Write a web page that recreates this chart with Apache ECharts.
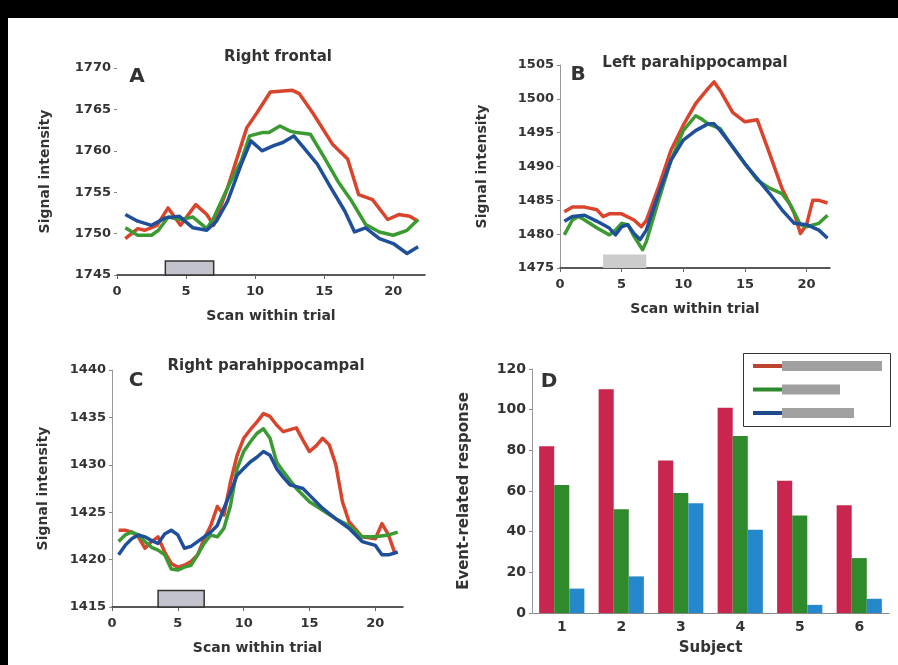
<!DOCTYPE html>
<html>
<head>
<meta charset="utf-8">
<script src="https://cdn.jsdelivr.net/npm/echarts@6/dist/echarts.min.js"></script>
<style>
  html, body { margin: 0; padding: 0; background: #fff; }
  #chart { width: 898px; height: 665px; }
</style>
</head>
<body>
<div id="chart"></div>
<script>
// ---- Panel A: right frontal, [scan, signal] ----
const frontalRed = [[0.6,1749.4],[1.5,1750.6],[2,1750.4],[2.9,1751],[3.7,1753.1],[4.6,1751],[5.7,1753.5],[6.5,1752.3],[7,1751],[8,1755.5],[9.4,1762.8],[10.1,1764.5],[11.1,1767.1],[12.7,1767.3],[13.2,1766.9],[14.2,1764.5],[15.6,1760.8],[16.7,1759],[17.5,1754.7],[18.5,1754.1],[19.6,1751.7],[20.4,1752.3],[21.2,1752.1],[21.8,1751.5]];
const frontalGreen = [[0.6,1750.7],[1.5,1749.8],[2.5,1749.8],[3,1750.4],[3.7,1752],[4.6,1751.7],[5.5,1752],[6.5,1750.6],[7,1751.9],[8,1755.5],[9,1758.8],[9.6,1761.8],[10.5,1762.2],[11,1762.2],[11.8,1763],[12.5,1762.4],[13,1762.2],[14,1762],[15,1759.2],[16,1756.3],[17,1753.9],[18,1751.1],[19,1750.2],[20,1749.8],[21,1750.4],[21.8,1751.7]];
const frontalBlue = [[0.6,1752.3],[1.5,1751.5],[2.5,1751],[3.5,1751.9],[4.5,1752.1],[5.5,1750.7],[6.5,1750.4],[7.2,1751.5],[8,1753.9],[9,1758.4],[9.7,1761.2],[10.5,1760],[11.3,1760.6],[12,1761],[12.8,1761.8],[13.5,1760.4],[14.5,1758.4],[15.5,1755.5],[16.5,1752.7],[17.2,1750.2],[18,1750.7],[19,1749.4],[20,1748.8],[21,1747.6],[21.8,1748.4]];

// ---- Panel B: left parahippocampal ----
const leftParaRed = [[0.35,1483.3],[1,1484],[2,1484],[3,1483.6],[3.5,1482.6],[4,1483],[5,1483],[6,1482.1],[6.6,1481.1],[7,1482],[8,1487],[9,1492.4],[10,1496.1],[11,1499.3],[12,1501.5],[12.5,1502.5],[13,1501.2],[14,1498],[15,1496.6],[16,1496.9],[17,1491.9],[18,1486.8],[19,1483.1],[19.5,1480.1],[20,1481.4],[20.5,1485],[21,1485],[21.7,1484.6]];
const leftParaGreen = [[0.35,1479.9],[1,1482.1],[1.5,1482.6],[2,1482.1],[3,1480.9],[4,1479.9],[4.5,1480.6],[5,1481.6],[5.5,1481.4],[6,1479.7],[6.7,1477.7],[7,1478.9],[8,1485],[9,1490.9],[10,1495.3],[11,1497.5],[11.5,1497],[12,1496.3],[13,1495.6],[14,1492.9],[15,1490.4],[16,1488],[17,1486.8],[18,1486],[18.7,1484.3],[19.5,1481.4],[20,1481.1],[21,1481.6],[21.7,1482.8]];
const leftParaBlue = [[0.35,1481.9],[1,1482.6],[2,1482.8],[3,1481.9],[4,1480.9],[4.5,1479.9],[5,1481.1],[5.5,1481.4],[6,1480.1],[6.5,1479.2],[7,1480.6],[8,1486],[9,1490.9],[10,1493.9],[11,1495.3],[12,1496.3],[12.5,1496.3],[13,1495.3],[14,1492.9],[15,1490.4],[16,1488.2],[17,1486],[18,1483.6],[19,1481.6],[20,1481.4],[21,1480.6],[21.7,1479.4]];

// ---- Panel C: right parahippocampal ----
const rightParaRed = [[0.5,1423.1],[1,1423.1],[1.5,1422.9],[2,1422.4],[2.5,1421.2],[3,1421.9],[3.5,1422.4],[4,1420.8],[4.5,1419.6],[5,1419.2],[5.5,1419.4],[6,1419.8],[6.5,1420.5],[7,1422.2],[7.5,1423.6],[8,1425.6],[8.5,1424.7],[9,1428.2],[9.5,1431],[10,1432.8],[10.5,1433.7],[11,1434.5],[11.5,1435.4],[12,1435.1],[12.5,1434.2],[13,1433.5],[14,1433.9],[14.5,1432.6],[15,1431.4],[15.5,1432],[16,1432.8],[16.5,1432.1],[17,1430],[17.5,1426.1],[18,1424],[19,1422.4],[20,1422.2],[20.5,1423.8],[21,1422.6],[21.5,1420.6]];
const rightParaGreen = [[0.5,1421.9],[1,1422.6],[1.5,1422.9],[2,1422.6],[2.5,1421.9],[3,1421.3],[3.5,1421],[4,1420.5],[4.5,1419],[5,1418.9],[5.5,1419.2],[6,1419.4],[6.5,1420.5],[7,1421.7],[7.5,1422.6],[8,1422.4],[8.5,1423.3],[9,1425.7],[9.5,1429.6],[10,1431.4],[10.5,1432.4],[11,1433.3],[11.5,1433.8],[12,1432.8],[12.5,1430.3],[13,1429.3],[14,1427.5],[15,1426.1],[16,1425.2],[17,1424.3],[18,1423.6],[19,1422.4],[20,1422.4],[21,1422.6],[21.7,1422.9]];
const rightParaBlue = [[0.5,1420.5],[1,1421.5],[1.5,1422.2],[2,1422.6],[2.5,1422.4],[3,1422],[3.5,1421.7],[4,1422.7],[4.5,1423.1],[5,1422.6],[5.5,1421.2],[6,1421.4],[6.5,1421.9],[7,1422.4],[7.5,1422.9],[8,1423.6],[8.5,1425.4],[9,1427.1],[9.5,1428.9],[10,1429.6],[10.5,1430.3],[11,1430.8],[11.5,1431.4],[12,1431],[12.5,1429.6],[13,1428.7],[13.5,1427.9],[14,1427.7],[14.5,1427.5],[15,1426.8],[16,1425.4],[17,1424.3],[18,1423.3],[19,1421.9],[20,1421.5],[20.5,1420.5],[21,1420.5],[21.7,1420.8]];

// Stimulus interval shown as a grey block on each time course
const stimulusScans = [3.5, 7];

// ---- Panel D: event-related response per subject ----
const subjects = ['1', '2', '3', '4', '5', '6'];
const responseRed = [82, 110, 75, 101, 65, 53];
const responseGreen = [63, 51, 59, 87, 48, 27];
const responseBlue = [12, 18, 54, 41, 4, 7];

const scanTicks = [0, 5, 10, 15, 20];

const FONT = '"DejaVu Sans", Verdana, sans-serif';
const INK = '#333';
const LINE_RED = '#d8442c';
const LINE_GREEN = '#3c9a32';
const LINE_BLUE = '#1f4f9a';
const BAR_RED = '#c8254f';
const BAR_GREEN = '#2f8a2c';
const BAR_BLUE = '#2688cc';

const tickLabel = { fontFamily: FONT, fontSize: 13, fontWeight: 'bold', color: INK };
const nameStyle = { fontFamily: FONT, fontSize: 14, fontWeight: 'bold', color: INK };
const plain = v => String(v);

function scanAxis(gridIndex, max) {
  return {
    type: 'value', gridIndex, min: 0, max,
    name: 'Scan within trial', nameLocation: 'middle', nameGap: 34, nameTextStyle: nameStyle,
    splitLine: { show: false },
    axisLine: { show: true, lineStyle: { color: '#222', width: 1.5 } },
    axisTick: { show: true, length: 4, lineStyle: { color: '#666' }, customValues: scanTicks },
    axisLabel: Object.assign({ margin: 10, customValues: scanTicks, formatter: plain }, tickLabel)
  };
}

function signalAxis(gridIndex, min, max, showLine, gap) {
  return {
    type: 'value', gridIndex, min, max, interval: 5,
    name: 'Signal intensity', nameLocation: 'middle', nameGap: gap, nameTextStyle: nameStyle,
    splitLine: { show: false },
    axisLine: { show: showLine, lineStyle: { color: '#999', width: 1 } },
    axisTick: { show: true, length: 3, lineStyle: { color: '#888' } },
    axisLabel: Object.assign({ margin: 6, formatter: plain }, tickLabel)
  };
}

function course(data, color, xi) {
  return {
    type: 'line', xAxisIndex: xi, yAxisIndex: xi, data,
    showSymbol: false, silent: true,
    lineStyle: { color, width: 3.5, join: 'round' }
  };
}

function stimulus(xi, base, height, withBorder) {
  return {
    type: 'line', xAxisIndex: xi, yAxisIndex: xi, data: [], silent: true,
    markArea: {
      silent: true,
      itemStyle: {
        color: withBorder ? '#c3c3cd' : '#cccccc',
        borderColor: '#333', borderWidth: withBorder ? 1.5 : 0
      },
      data: [[{ coord: [stimulusScans[0], base] }, { coord: [stimulusScans[1], base + height] }]]
    }
  };
}

const chart = echarts.init(document.getElementById('chart'), null, { renderer: 'canvas' });

const centeredText = (text, x, y, size) => ({
  type: 'text', x, y,
  style: { text, font: 'bold ' + size + 'px ' + FONT, fill: INK, align: 'center', verticalAlign: 'middle' }
});

const legendRows = [
  { color: '#bd452e', barLen: 100 },
  { color: '#2e8a2e', barLen: 58 },
  { color: '#1e4a8a', barLen: 72 }
];

const legendGraphics = [
  { type: 'rect', left: 743, top: 353, shape: { width: 147, height: 73 },
    style: { fill: '#fff', stroke: '#333', lineWidth: 1 } }
];
legendRows.forEach((row, i) => {
  const y = 366 + i * 23.5;
  legendGraphics.push({ type: 'rect', left: 753, top: y - 2, shape: { width: 29, height: 4 }, style: { fill: row.color } });
  legendGraphics.push({ type: 'rect', left: 782, top: y - 5, shape: { width: row.barLen, height: 10 }, style: { fill: '#a0a0a0' } });
});

const option = {
  backgroundColor: '#fff',
  animation: false,
  textStyle: { fontFamily: FONT },
  grid: [
    { left: 117, top: 68, width: 308, height: 207 },
    { left: 560, top: 65, width: 270, height: 203 },
    { left: 112, top: 370, width: 291, height: 237 },
    { left: 532, top: 369, width: 357, height: 244 }
  ],
  xAxis: [
    scanAxis(0, 22.3),
    scanAxis(1, 21.9),
    scanAxis(2, 22.1),
    {
      type: 'category', gridIndex: 3, data: subjects,
      name: 'Subject', nameLocation: 'middle', nameGap: 28,
      nameTextStyle: Object.assign({}, nameStyle, { fontSize: 15 }),
      axisLine: { show: true, lineStyle: { color: '#888', width: 1 } },
      axisTick: { show: false },
      axisLabel: Object.assign({ margin: 7 }, tickLabel, { fontSize: 14 })
    }
  ],
  yAxis: [
    signalAxis(0, 1745, 1770, false, 65),
    signalAxis(1, 1475, 1505, true, 71),
    signalAxis(2, 1415, 1440, true, 62),
    {
      type: 'value', gridIndex: 3, min: 0, max: 120, interval: 20,
      name: 'Event-related response', nameLocation: 'middle', nameGap: 60,
      nameTextStyle: Object.assign({}, nameStyle, { fontSize: 15 }),
      splitLine: { show: false },
      axisLine: { show: true, lineStyle: { color: '#999', width: 1 } },
      axisTick: { show: true, length: 3, lineStyle: { color: '#888' } },
      axisLabel: Object.assign({ margin: 6 }, tickLabel, { fontSize: 14 })
    }
  ],
  series: [
    stimulus(0, 1745, 1.7, true),
    course(frontalRed, LINE_RED, 0),
    course(frontalGreen, LINE_GREEN, 0),
    course(frontalBlue, LINE_BLUE, 0),
    stimulus(1, 1475, 2, false),
    course(leftParaRed, LINE_RED, 1),
    course(leftParaGreen, LINE_GREEN, 1),
    course(leftParaBlue, LINE_BLUE, 1),
    stimulus(2, 1415, 1.75, true),
    course(rightParaRed, LINE_RED, 2),
    course(rightParaGreen, LINE_GREEN, 2),
    course(rightParaBlue, LINE_BLUE, 2),
    { type: 'bar', xAxisIndex: 3, yAxisIndex: 3, data: responseRed, itemStyle: { color: BAR_RED }, barGap: '0%', barCategoryGap: '24%', silent: true },
    { type: 'bar', xAxisIndex: 3, yAxisIndex: 3, data: responseGreen, itemStyle: { color: BAR_GREEN }, barGap: '0%', barCategoryGap: '24%', silent: true },
    { type: 'bar', xAxisIndex: 3, yAxisIndex: 3, data: responseBlue, itemStyle: { color: BAR_BLUE }, barGap: '0%', barCategoryGap: '24%', silent: true }
  ],
  graphic: [
    // frame
    { type: 'rect', left: 0, top: 0, shape: { width: 898, height: 18 }, style: { fill: '#000' } },
    { type: 'rect', left: 0, top: 0, shape: { width: 8, height: 665 }, style: { fill: '#000' } },
    centeredText('Right frontal', 278, 57, 15),
    centeredText('Left parahippocampal', 695, 63, 15),
    centeredText('Right parahippocampal', 266, 366, 15),
    centeredText('A', 137, 77, 20),
    centeredText('B', 578, 75, 20),
    centeredText('C', 136, 381, 20),
    centeredText('D', 549, 382, 20)
  ].concat(legendGraphics)
};

chart.setOption(option);
</script>
</body>
</html>
